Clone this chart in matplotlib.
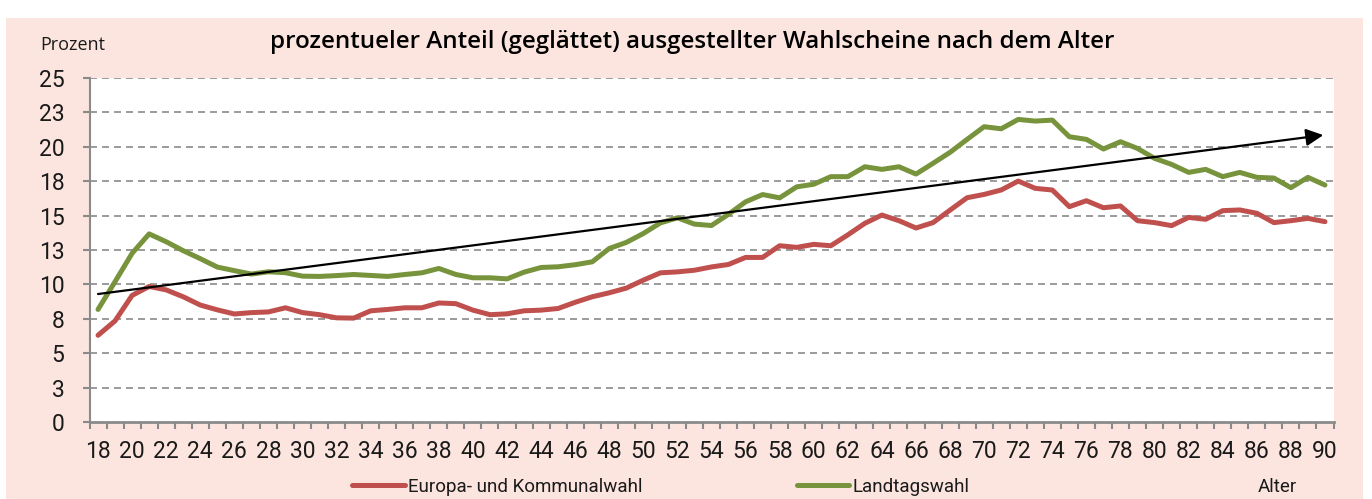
import matplotlib
matplotlib.use("Agg")
import matplotlib.pyplot as plt
import matplotlib.font_manager as fm
from matplotlib.patches import Rectangle
from matplotlib.ticker import FixedLocator, MultipleLocator

# data
ages = list(range(18, 91))
europa_kommunal = [
    6.3, 7.35, 9.2, 9.85, 9.6, 9.1, 8.5, 8.15, 7.85, 7.95,
    8.0, 8.3, 7.95, 7.8, 7.57, 7.55, 8.08, 8.18, 8.3, 8.3,
    8.65, 8.6, 8.13, 7.8, 7.86, 8.08, 8.13, 8.25, 8.7, 9.1,
    9.39, 9.73, 10.31, 10.84, 10.91, 11.03, 11.27, 11.45, 11.96, 11.96,
    12.81, 12.69, 12.91, 12.81, 13.6, 14.44, 15.04, 14.63, 14.1, 14.49,
    15.4, 16.3, 16.54, 16.86, 17.51, 16.98, 16.86, 15.65, 16.08, 15.57,
    15.7, 14.63, 14.49, 14.27, 14.87, 14.73, 15.36, 15.41, 15.17, 14.49,
    14.63, 14.8, 14.56,
]
landtag = [
    8.18, 10.2, 12.26, 13.67, 13.1, 12.45, 11.87, 11.26, 11.0, 10.75,
    10.92, 10.85, 10.6, 10.58, 10.64, 10.72, 10.65, 10.58, 10.72, 10.84,
    11.16, 10.72, 10.48, 10.48, 10.4, 10.89, 11.23, 11.28, 11.43, 11.64,
    12.61, 13.05, 13.7, 14.47, 14.84, 14.38, 14.28, 15.1, 16.0, 16.53,
    16.29, 17.09, 17.28, 17.83, 17.83, 18.55, 18.36, 18.55, 18.02, 18.8,
    19.6, 20.54, 21.46, 21.31, 21.99, 21.87, 21.94, 20.73, 20.54, 19.84,
    20.37, 19.88, 19.16, 18.72, 18.14, 18.36, 17.83, 18.14, 17.78, 17.73,
    17.03, 17.78, 17.22,
]
trend_start = (18, 9.3)
trend_end = (89.9, 20.85)
ytick_values = [0, 2.5, 5, 7.5, 10, 12.5, 15, 17.5, 20, 22.5, 25]
ytick_labels = ["0", "3", "5", "8", "10", "13", "15", "18", "20", "23", "25"]
xtick_values = list(range(18, 91, 2))

RED = "#c0504d"
GREEN = "#77933c"
PINK = "#fbe5de"
GRID = "#8a8a8a"
TXT = "#1a1a1a"

names = {f.name for f in fm.fontManager.ttflist}
plain = [n for n in ["Open Sans", "Noto Sans", "DejaVu Sans"] if n in names]
narrow = "Roboto" if "Roboto" in names else "DejaVu Sans"

W, H = 1372, 499
fig = plt.figure(figsize=(W / 100, H / 100), dpi=100)
fig.patch.set_facecolor("white")
fig.add_artist(Rectangle((6 / W, 0), (1363 - 6) / W, (H - 18) / H,
                         transform=fig.transFigure, facecolor=PINK,
                         edgecolor="none", zorder=0))

ax = fig.add_axes([89.5 / W, (H - 422) / H, (1333.5 - 89.5) / W, 344 / H])
ax.set_facecolor("white")

ax.plot(ages, europa_kommunal, color=RED, lw=3.6, solid_joinstyle="round",
        solid_capstyle="round", label="Europa- und Kommunalwahl", zorder=3)
ax.plot(ages, landtag, color=GREEN, lw=3.6, solid_joinstyle="round",
        solid_capstyle="round", label="Landtagswahl", zorder=3)
ax.annotate("", xy=trend_end, xytext=trend_start,
            arrowprops=dict(arrowstyle="-|>", lw=1.6, color="black",
                            mutation_scale=26, shrinkA=0, shrinkB=0),
            zorder=4)

ax.set_xlim(17.5, 90.5)
ax.set_ylim(0, 25)

ax.yaxis.set_major_locator(FixedLocator(ytick_values))
ax.set_yticklabels(ytick_labels)
ax.xaxis.set_major_locator(FixedLocator(xtick_values))
ax.set_xticklabels([str(a) for a in xtick_values])
ax.xaxis.set_minor_locator(MultipleLocator(1, offset=0.5))

for y in ytick_values[1:]:
    ax.axhline(y, color=GRID, lw=1.2, ls=(0, (4.2, 3.0)), zorder=1)

for side in ["top", "right"]:
    ax.spines[side].set_visible(False)
ax.spines["left"].set_color(GRID)
ax.spines["left"].set_linewidth(1.5)
ax.spines["bottom"].set_color(GRID)
ax.spines["bottom"].set_linewidth(2)

ax.tick_params(axis="y", which="major", direction="out", length=5,
               width=1.5, color=GRID, pad=13, labelcolor=TXT)
ax.tick_params(axis="x", which="major", length=0, pad=13, labelcolor=TXT)
ax.tick_params(axis="x", which="minor", direction="out", length=5,
               width=1.5, color=GRID)
for lab in ax.get_xticklabels() + ax.get_yticklabels():
    lab.set_family(narrow)
    lab.set_fontsize(16.5)

leg = ax.legend(loc="center left", bbox_to_anchor=(352 / W, 1 - 487 / H),
                bbox_transform=fig.transFigure, ncol=2, frameon=False,
                borderpad=0, borderaxespad=0, handlelength=2.8,
                handletextpad=0.2, columnspacing=8.2,
                prop={"family": narrow, "size": 13.5})
for txt in leg.get_texts():
    txt.set_color(TXT)

fig.text(1277 / W, 1 - 487 / H, "Alter", ha="center", va="center",
         family=narrow, fontsize=13.5, color=TXT)
fig.text(73 / W, 1 - 45 / H, "Prozent", ha="center", va="center",
         family=plain, fontsize=13, color=TXT)
title = fig.text(692 / W, 1 - 42 / H,
                 "prozentueler Anteil (geglättet) ausgestellter Wahlscheine nach dem Alter",
                 ha="center", va="center", family=plain, fontsize=16,
                 fontweight="semibold", color="black")

fig.canvas.draw()
w = title.get_window_extent().width
title.set_fontsize(16 * 849 / w)

fig.savefig("out.png", dpi=100)
